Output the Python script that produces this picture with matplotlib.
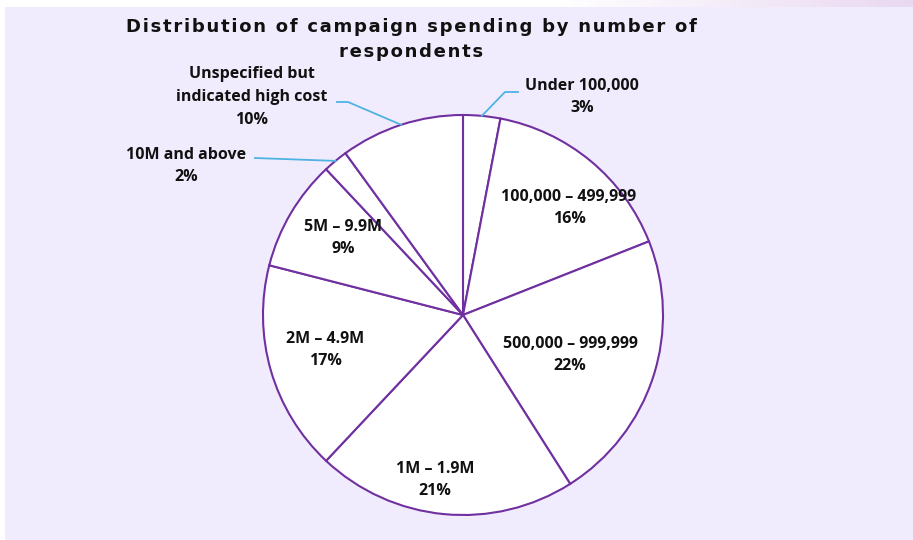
import numpy as np
import matplotlib.pyplot as plt
from matplotlib.patches import Rectangle
from matplotlib.colors import LinearSegmentedColormap

# -----------------------------
# DATA
# -----------------------------
categories = [
    "Under 100,000",
    "100,000 – 499,999",
    "500,000 – 999,999",
    "1M – 1.9M",
    "2M – 4.9M",
    "5M – 9.9M",
    "10M and above",
    "Unspecified but\nindicated high cost",
]
shares = [3, 16, 22, 21, 17, 9, 2, 10]
title_lines = ["Distribution of campaign spending by number of", "respondents"]

# label centres (pie radius = 1, centre = origin)
label_xy = [
    (0.595, 1.09),
    (0.53, 0.535),
    (0.535, -0.20),
    (-0.14, -0.825),
    (-0.69, -0.175),
    (-0.60, 0.385),
    (-1.385, 0.745),
    (-1.055, 1.09),
]
outside = {0, 6, 7}
# leader lines: elbow point and end point next to the text
leaders = {
    0: [(0.21, 1.115), (0.275, 1.115)],
    6: [(-1.04, 0.785), (-1.04, 0.785)],
    7: [(-0.575, 1.065), (-0.63, 1.065)],
}

PURPLE = "#7030A0"
LEADER = "#4EB3E3"
BG = "#F1ECFD"

plt.rcParams['font.family'] = ['Open Sans', 'DejaVu Sans']

fig = plt.figure(figsize=(9.13, 5.4), dpi=100)
fig.patch.set_facecolor("white")

# background panel with a faint gradient strip along the top edge
bg = fig.add_axes([0, 0, 1, 1])
bg.set_xlim(0, 913)
bg.set_ylim(540, 0)
bg.axis("off")
bg.add_patch(Rectangle((5, 7), 913, 540, color=BG, lw=0))
grad = np.linspace(0, 1, 300)[None, :]
cmap = LinearSegmentedColormap.from_list("strip", ["#FFFFFF", "#E9D8F1"])
bg.imshow(grad, extent=(560, 913, 7, 0), aspect="auto", cmap=cmap)

ax = fig.add_axes([0, 0, 1, 1])
wedges, _ = ax.pie(
    shares,
    startangle=90,
    counterclock=False,
    colors=["white"] * len(shares),
    wedgeprops=dict(edgecolor=PURPLE, linewidth=1.5),
    radius=1.0,
)
# one data unit = 200 px, pie centre at (463, 315)
ax.set_xlim(-463 / 200, (913 - 463) / 200)
ax.set_ylim(-(540 - 315) / 200, 315 / 200)
ax.set_aspect("equal")
ax.axis("off")

for i, (name, val) in enumerate(zip(categories, shares)):
    x, y = label_xy[i]
    ax.text(x, y, f"{name}\n{val}%", ha="center", va="center",
            fontsize=11.5, fontweight="bold", color="#111111", linespacing=1.55)
    if i in outside:
        w = wedges[i]
        mid = np.deg2rad((w.theta1 + w.theta2) / 2)
        px, py = np.cos(mid), np.sin(mid)
        pts = [(px, py)] + leaders[i]
        ax.plot([p[0] for p in pts], [p[1] for p in pts], color=LEADER, lw=1.3)

# spaced-out title
for line, ypix in zip(title_lines, [27, 52]):
    fig.text(411 / 913, 1 - ypix / 540, "\u200a".join(line),
             ha="center", va="center", fontsize=13, fontweight="bold",
             family="DejaVu Sans", color="#111111")

fig.savefig("out.png", dpi=100)
